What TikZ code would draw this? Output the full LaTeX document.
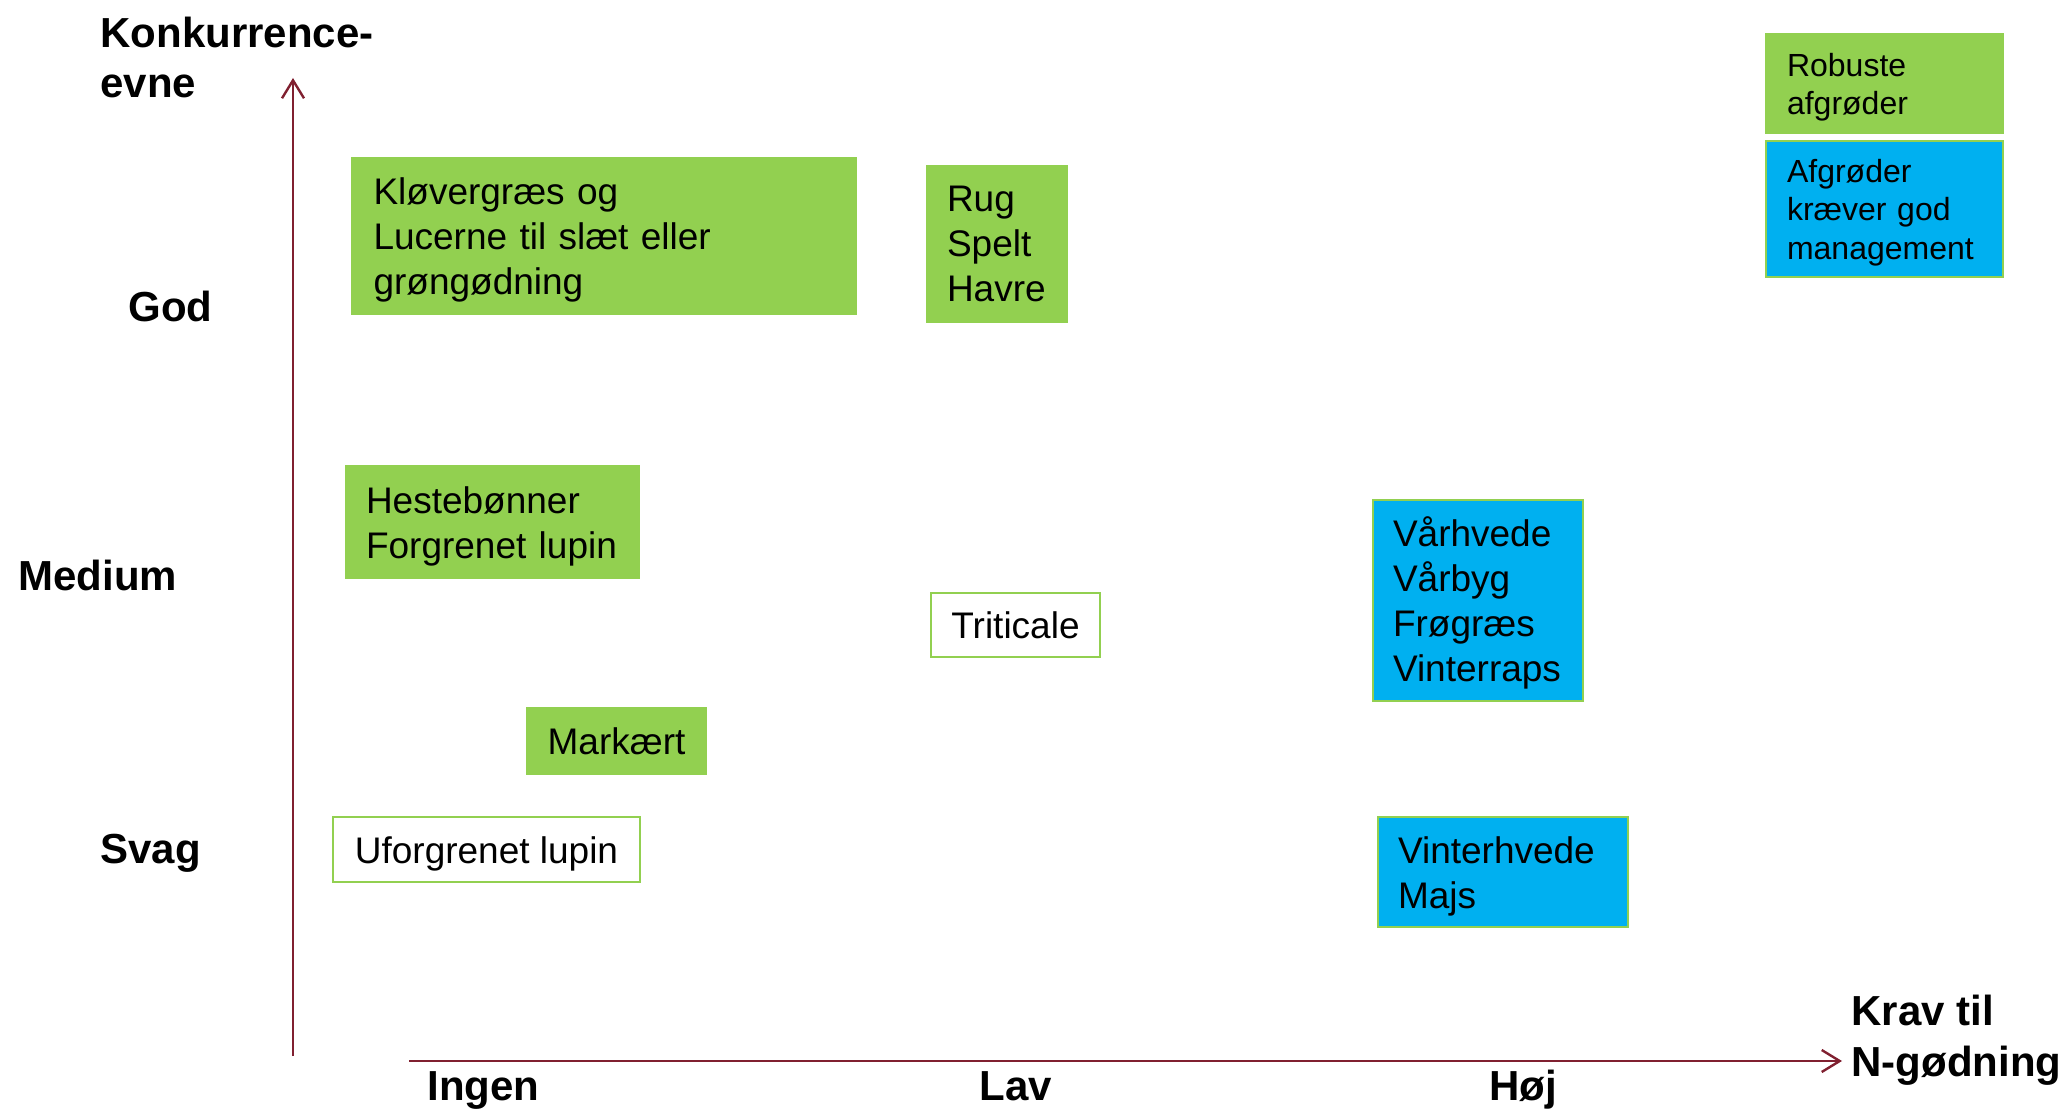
\documentclass[tikz,border=0pt]{standalone}
\usepackage{fontspec}
\setmainfont{Liberation Sans}
\usetikzlibrary{arrows.meta}
\definecolor{axisred}{RGB}{128,32,48}
\definecolor{boxgreen}{HTML}{92D050}
\definecolor{boxblue}{HTML}{00B0F0}
\newcommand{\tallrule}{\rule{0pt}{17.4pt}}
\newcommand{\tallrulesmall}{\rule{0pt}{15.1pt}}
\begin{document}
\begin{tikzpicture}[x=0.5pt,y=-0.5pt,
  axis/.style={draw=axisred, line width=1.2pt, -{Straight Barb[length=9pt,width=11pt,line width=1.2pt]}},
  lab/.style={anchor=base west, inner sep=0pt, font=\bfseries\fontsize{21}{23.5}\selectfont},
  cell/.style={draw=boxgreen, line width=1.2pt, inner ysep=0pt, font=\fontsize{18.5}{22.5}\selectfont},
  gbox/.style={cell, fill=boxgreen, align=left},
  bbox/.style={cell, fill=boxblue, align=left},
  wbox/.style={cell, fill=white, align=center},
  gcbox/.style={cell, fill=boxgreen, align=center},
  legend/.style={font=\fontsize{16}{19.2}\selectfont}
]
\useasboundingbox (0,0) rectangle (2070,1111);

% axes
\coordinate (yb) at (293,1056);
\coordinate (yt) at (293,78);
\coordinate (xl) at (409,1061);
\coordinate (xr) at (1842,1061);
\draw[axis] (yb) -- (yt);
\draw[axis] (xl) -- (xr);

% axis labels
\node[lab] (k1) at (100,48) {Konkurrence-};
\node[lab] (k2) at (100,98) {evne};
\node[lab] (god) at (128,322) {God};
\node[lab] (medium) at (18,591) {Medium};
\node[lab] (svag) at (100,863) {Svag};
\node[lab] (ingen) at (427,1100) {Ingen};
\node[lab] (lav) at (979,1100) {Lav};
\node[lab] (hoj) at (1489,1100) {Høj};
\node[lab] (krav1) at (1851,1025) {Krav til};
\node[lab] (krav2) at (1851,1076) {N-gødning};

% crop boxes
\node[gbox, text width=230.5pt, inner xsep=10.5pt, minimum height=78pt] (klover) at (604,236)
  {\tallrule Kløvergræs og\\Lucerne til slæt eller\\grøngødning};
\node[gbox, text width=50pt, inner xsep=10pt, minimum height=78pt] (rug) at (997,244)
  {Rug\\Spelt\\Havre};
\node[gbox, text width=126.5pt, inner xsep=10pt, minimum height=56pt] (heste) at (492.5,522)
  {\tallrule Hestebønner\\Forgrenet lupin};
\node[wbox, minimum width=84.5pt, minimum height=32pt] (triticale) at (1015.5,625) {Triticale};
\node[gcbox, minimum width=89.5pt, minimum height=33pt] (markaert) at (616.5,741) {Markært};
\node[wbox, minimum width=153.5pt, minimum height=32.5pt] (ufor) at (486.5,849.5) {\tallrule Uforgrenet lupin};
\node[bbox, text width=85pt, inner xsep=10pt, minimum height=100.5pt] (vaar) at (1478,600.5)
  {\tallrule Vårhvede\\Vårbyg\\Frøgræs\\Vinterraps};
\node[bbox, text width=105pt, inner xsep=10pt, minimum height=55pt] (vinter) at (1503,872)
  {\tallrule Vinterhvede\\Majs};

% legend
\node[gbox, legend, text width=97.5pt, inner xsep=10.5pt, minimum height=49.5pt] (legrob) at (1884.5,83.5)
  {\tallrulesmall Robuste\\afgrøder};
\node[bbox, legend, text width=97.5pt, inner xsep=10.5pt, minimum height=68pt] (legblue) at (1884.5,209)
  {\tallrulesmall Afgrøder\\kræver god\\management};
\end{tikzpicture}
\end{document}
